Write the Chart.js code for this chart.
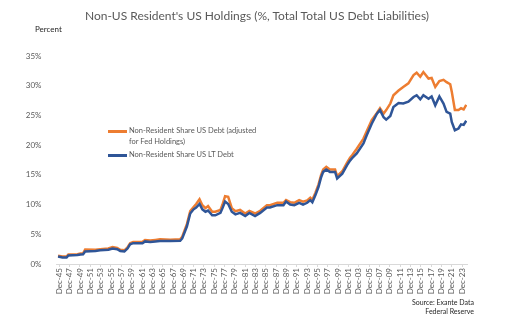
<!DOCTYPE html>
<html>
<head>
<meta charset="utf-8">
<script src="https://cdn.jsdelivr.net/npm/chart.js@4.4.1/dist/chart.umd.min.js"></script>
<style>
  body { margin: 0; background: #fff; }
  #wrap { position: relative; width: 509px; height: 324px; font-family: Lato, "Open Sans", sans-serif; }
  #title { position: absolute; left: 0; width: 514px; top: 7px; text-align: center; font-size: 12px; line-height: 18px; color: #595959; }
  #unit { position: absolute; left: 35px; top: 24px; font-size: 8px; color: #262626; }
  .leg { position: absolute; font-size: 7.5px; line-height: 11px; color: #595959; }
  .swatch { position: absolute; width: 19px; height: 3px; }
  #source { position: absolute; right: 35px; top: 298px; text-align: right; font-size: 7px; line-height: 9px; color: #262626; }
</style>
</head>
<body>
<div id="wrap">
  <canvas id="chart" width="509" height="324"></canvas>
  <div id="title">Non-US Resident's US Holdings (%, Total Total US Debt Liabilities)</div>
  <div id="unit">Percent</div>
  <div class="swatch" style="left:108px;top:130px;background:#ED7D31"></div>
  <div class="leg" style="left:129px;top:125px">Non-Resident Share US Debt (adjusted<br>for Fed Holdings)</div>
  <div class="swatch" style="left:108px;top:154px;background:#2F5597"></div>
  <div class="leg" style="left:129px;top:149px">Non-Resident Share US LT Debt</div>
  <div id="source">Source: Exante Data<br>Federal Reserve</div>
</div>
<script>
// x position of each reading, in years (1945 = Dec-45)
var years = [
  1944.75, 1945.6, 1946.4, 1946.75, 1948.5, 1949.1, 1949.6, 1950.0, 1952.0, 1952.9,
  1954.5, 1955.3, 1956.2, 1956.8, 1957.6, 1958.2, 1958.7, 1959.3, 1961.1, 1961.6,
  1962.6, 1963.6, 1964.5, 1966.5, 1968.4, 1968.8, 1969.7, 1970.35, 1971.0, 1971.5,
  1972.15, 1972.7, 1973.3, 1973.8, 1974.6, 1975.2, 1976.2, 1976.6, 1977.1, 1977.7,
  1978.4, 1979.1, 1980.0, 1981.0, 1981.8, 1982.9, 1983.9, 1985.2, 1985.8, 1987.2,
  1988.4, 1988.9, 1989.7, 1990.5, 1991.45, 1992.2, 1993.0, 1993.6, 1994.0, 1994.6,
  1995.2, 1995.7, 1996.1, 1996.7, 1997.4, 1998.4, 1998.8, 1999.8, 2000.7, 2001.3,
  2001.7, 2002.6, 2003.9, 2004.55, 2005.5, 2006.5, 2007.1, 2007.8, 2008.3, 2009.1,
  2009.7, 2010.7, 2011.6, 2012.6, 2013.6, 2014.2, 2014.9, 2015.5, 2016.5, 2017.1,
  2017.8, 2018.6, 2019.4, 2020.0, 2020.7, 2021.0, 2021.6, 2022.3, 2022.8, 2023.3,
  2023.8
];

// Non-Resident Share US Debt (adjusted for Fed Holdings)
var adjustedShare = [
  1.4, 1.25, 1.25, 1.6, 1.65, 1.75, 1.8, 2.45, 2.4, 2.5,
  2.6, 2.85, 2.7, 2.4, 2.3, 2.8, 3.5, 3.7, 3.75, 4.05,
  3.95, 4.05, 4.15, 4.1, 4.15, 4.6, 6.7, 8.9, 9.6, 10.1,
  10.9, 9.9, 9.4, 9.75, 8.8, 8.8, 9.1, 10.0, 11.4, 11.3,
  9.4, 8.9, 9.1, 8.5, 8.95, 8.5, 8.95, 9.9, 9.9, 10.3,
  10.3, 10.75, 10.4, 10.3, 10.75, 10.5, 10.7, 11.15, 10.8, 12.0,
  13.4, 15.0, 15.9, 16.35, 15.9, 15.9, 14.8, 15.6, 17.0, 17.9,
  18.3, 19.4, 21.1, 22.4, 24.2, 25.4, 26.2, 25.3, 25.9, 27.0,
  28.4, 29.2, 29.8, 30.4, 31.8, 32.2, 31.5, 32.3, 31.2, 31.3,
  29.8, 30.8, 31.0, 30.6, 30.25, 29.0, 25.9, 25.9, 26.2, 26.0,
  26.8
];

// Non-Resident Share US LT Debt
var ltShare = [
  1.25, 1.1, 1.1, 1.45, 1.5, 1.6, 1.65, 2.1, 2.2, 2.3,
  2.4, 2.6, 2.5, 2.2, 2.1, 2.6, 3.3, 3.5, 3.5, 3.8,
  3.7, 3.8, 3.85, 3.85, 3.9, 4.3, 6.3, 8.5, 9.2, 9.5,
  10.1, 9.2, 8.8, 9.0, 8.2, 8.2, 8.6, 9.4, 10.5, 10.1,
  8.8, 8.35, 8.6, 8.07, 8.6, 8.07, 8.6, 9.5, 9.5, 9.9,
  9.9, 10.5, 10.0, 9.9, 10.3, 10.0, 10.3, 10.75, 10.4, 11.6,
  13.0, 14.6, 15.5, 15.9, 15.5, 15.5, 14.4, 15.2, 16.6, 17.4,
  17.8, 18.6, 20.3, 21.7, 23.6, 25.3, 25.9, 24.7, 24.3, 24.9,
  26.4, 27.1, 27.0, 27.3, 28.1, 28.4, 27.7, 28.4, 27.8, 28.2,
  26.7, 28.2, 27.0, 25.6, 25.3, 23.9, 22.5, 22.8, 23.5, 23.4,
  24.1
];

var tickYears = [
  1945, 1947, 1949, 1951, 1953, 1955, 1957, 1959, 1961, 1963,
  1965, 1967, 1969, 1971, 1973, 1975, 1977, 1979, 1981, 1983,
  1985, 1987, 1989, 1991, 1993, 1995, 1997, 1999, 2001, 2003,
  2005, 2007, 2009, 2011, 2013, 2015, 2017, 2019, 2021, 2023
];
var tickLabels = [
  'Dec-45', 'Dec-47', 'Dec-49', 'Dec-51', 'Dec-53', 'Dec-55', 'Dec-57', 'Dec-59', 'Dec-61', 'Dec-63',
  'Dec-65', 'Dec-67', 'Dec-69', 'Dec-71', 'Dec-73', 'Dec-75', 'Dec-77', 'Dec-79', 'Dec-81', 'Dec-83',
  'Dec-85', 'Dec-87', 'Dec-89', 'Dec-91', 'Dec-93', 'Dec-95', 'Dec-97', 'Dec-99', 'Dec-01', 'Dec-03',
  'Dec-05', 'Dec-07', 'Dec-09', 'Dec-11', 'Dec-13', 'Dec-15', 'Dec-17', 'Dec-19', 'Dec-21', 'Dec-23'
];

function toPoints(vals) {
  return vals.map(function (v, i) { return { x: years[i], y: v }; });
}

var ctx = document.getElementById('chart').getContext('2d');
var chart = new Chart(ctx, {
  type: 'line',
  data: {
    datasets: [
      {
        label: 'Non-Resident Share US Debt (adjusted for Fed Holdings)',
        data: toPoints(adjustedShare),
        borderColor: '#ED7D31',
        borderWidth: 2.5,
        pointRadius: 0,
        order: 1
      },
      {
        label: 'Non-Resident Share US LT Debt',
        data: toPoints(ltShare),
        borderColor: '#2F5597',
        borderWidth: 2.5,
        pointRadius: 0,
        order: 0
      }
    ]
  },
  options: {
    responsive: false,
    animation: false,
    layout: { padding: { left: 0, right: 42, top: 56, bottom: 0 } },
    plugins: {
      legend: { display: false },
      title: { display: false },
      tooltip: { enabled: false }
    },
    scales: {
      x: {
        type: 'linear',
        min: 1944.45,
        max: 2023.95,
        afterBuildTicks: function (scale) {
          scale.ticks = tickYears.map(function (y) { return { value: y }; });
        },
        afterFit: function (scale) { scale.height = 60; },
        ticks: {
          autoSkip: false,
          minRotation: 90,
          maxRotation: 90,
          padding: 1,
          color: '#595959',
          font: { family: 'Lato', size: 8 },
          callback: function (value) {
            var i = tickYears.indexOf(value);
            return i >= 0 ? tickLabels[i] : '';
          }
        },
        grid: { display: true, drawOnChartArea: false, tickLength: 3, color: '#d9d9d9' },
        border: { display: true, color: '#d9d9d9', width: 1 }
      },
      y: {
        min: 0,
        max: 35,
        afterFit: function (scale) { scale.width = 56.5; },
        ticks: {
          stepSize: 5,
          padding: 7,
          color: '#595959',
          font: { family: 'Lato', size: 8 },
          callback: function (v) { return v + '%'; }
        },
        grid: { display: false },
        border: { display: false }
      }
    }
  }
});
</script>
</body>
</html>
